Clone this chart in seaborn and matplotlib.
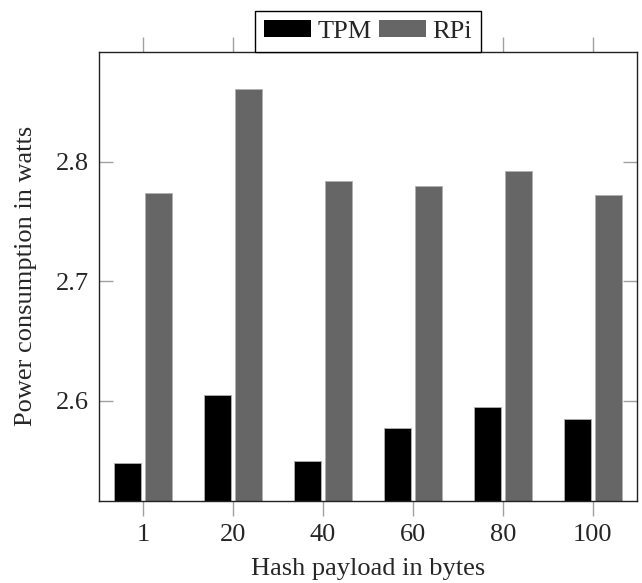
import pandas as pd
import matplotlib
matplotlib.use("Agg")
import matplotlib.pyplot as plt
import seaborn as sns

# values
payload_sizes = ["1", "20", "40", "60", "80", "100"]
tpm_watts = [2.548, 2.605, 2.550, 2.577, 2.595, 2.585]
rpi_watts = [2.774, 2.861, 2.784, 2.780, 2.792, 2.772]
series_names = ["TPM", "RPi"]
y_ticks = [2.6, 2.7, 2.8]

df = pd.DataFrame({
    "payload": payload_sizes * 2,
    "watts": tpm_watts + rpi_watts,
    "device": [series_names[0]] * len(payload_sizes) + [series_names[1]] * len(payload_sizes),
})

sns.set_style("white")
plt.rcParams["font.family"] = ["Liberation Serif", "DejaVu Serif"]

fs = 19
fig = plt.figure(figsize=(6.42, 5.83), dpi=100)
ax = fig.add_axes([0.154, 0.141, 0.838, 0.770])

sns.barplot(data=df, x="payload", y="watts", hue="device", order=payload_sizes,
            hue_order=series_names, palette=["black", "#666666"],
            width=0.694, gap=0.127, edgecolor="#b0b0b0", linewidth=0.6,
            saturation=1, ax=ax)

ax.set_ylim(2.5165, 2.892)
ax.set_xlim(-0.49, 5.49)
ax.set_yticks(y_ticks)
ax.set_yticklabels([f"{t:.1f}" for t in y_ticks])

ax.set_xlabel("Hash payload in bytes", fontsize=fs, labelpad=8)
ax.set_ylabel("Power consumption in watts", fontsize=fs, labelpad=14)

ax.tick_params(axis="y", direction="in", length=10, width=1, color="#a0a0a0",
               left=True, right=True, labelsize=fs, pad=7)
ax.tick_params(axis="x", direction="out", length=11, width=1, color="#a0a0a0",
               bottom=True, top=True, labelsize=fs, pad=6)

for s in ax.spines.values():
    s.set_visible(True)
    s.set_color("#222222")
    s.set_linewidth(1.0)

ax.grid(False)
leg = ax.legend(loc="lower center", bbox_to_anchor=(0.5, 1.0), ncol=2,
                fontsize=fs, frameon=True, fancybox=False, edgecolor="black",
                framealpha=1, borderaxespad=0, handlelength=1.78, handleheight=0.62,
                handletextpad=0.23, columnspacing=0.27, borderpad=0.35)
leg.get_frame().set_linewidth(1.0)
for h in leg.legend_handles:
    h.set_edgecolor("none")

fig.savefig("out.png", dpi=100)
